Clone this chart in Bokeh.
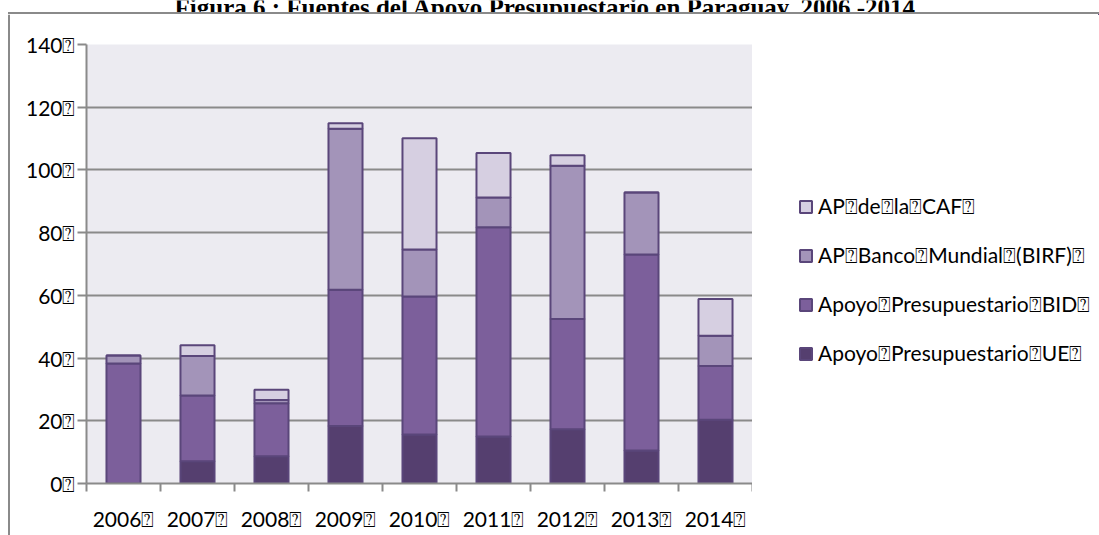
from bokeh.plotting import figure
from bokeh.models import (ColumnDataSource, Range1d, FixedTicker, Legend, LegendItem, Span)
from bokeh.layouts import column, row
from bokeh.core.properties import value
from bokeh.embed import file_html
from bokeh.resources import INLINE

years = ["2006", "2007", "2008", "2009", "2010", "2011", "2012", "2013", "2014"]
ue = [0.0, 7.1, 8.7, 18.3, 15.6, 15.0, 17.3, 10.5, 20.3]
bid = [38.3, 21.0, 16.9, 43.5, 44.0, 66.7, 35.2, 62.5, 17.2]
birf = [2.5, 12.6, 1.0, 51.3, 15.0, 9.5, 48.8, 19.8, 9.6]
caf = [0.0, 3.4, 3.3, 1.8, 35.5, 14.2, 3.4, 0.0, 11.7]
y_ticks = [0, 20, 40, 60, 80, 100, 120, 140]
series_names = ["Apoyo\u2370Presupuestario\u2370UE\u2370",
                "Apoyo\u2370Presupuestario\u2370BID\u2370",
                "AP\u2370Banco\u2370Mundial\u2370(BIRF)\u2370",
                "AP\u2370de\u2370la\u2370CAF\u2370"]
colors = ["#553f6f", "#7c5f9b", "#a394b9", "#d6cfe1"]
title_text = "Figura 6 : Fuentes del Apoyo Presupuestario en Paraguay, 2006 -2014"

FONT = "Lato"
GRAY = "#8a8a8a"
OUTLINE = "#5a467a"
stack_cols = ["ue", "bid", "birf", "caf"]


def blank(fig):
    fig.outline_line_color = None
    fig.grid.visible = False
    fig.background_fill_color = "white"
    fig.border_fill_color = "white"


# ---- top strip: (cut-off) title and top border line ----
top = figure(width=1099, height=14, output_backend="svg", toolbar_location=None,
             x_range=Range1d(0, 1099), y_range=Range1d(14, 0),
             x_axis_type=None, y_axis_type=None, min_border=0, frame_align=False)
blank(top)
top.text(x=[545], y=[6.5], text=[title_text], text_align="center",
         text_baseline="alphabetic", text_font=value("Liberation Serif"),
         text_font_style="bold", text_font_size="25px", text_color="black")
top.segment(x0=[7.5], y0=[12.5], x1=[1099], y1=[12.5], line_color=GRAY, line_width=2)
top.segment(x0=[8.5], y0=[11.5], x1=[8.5], y1=[14], line_color=GRAY, line_width=2)

# ---- left strip: left border line ----
left = figure(width=10, height=521, output_backend="svg", toolbar_location=None,
              x_range=Range1d(0, 10), y_range=Range1d(0, 1),
              x_axis_type=None, y_axis_type=None, min_border=0, frame_align=False)
blank(left)
left.add_layout(Span(location=8.5, dimension="height", line_color=GRAY, line_width=2))

# ---- chart ----
xs = [i + 0.5 for i in range(len(years))]
src = ColumnDataSource(dict(x=xs, ue=ue, bid=bid, birf=birf, caf=caf))

p = figure(width=742, height=521, output_backend="svg", toolbar_location=None,
           x_range=Range1d(0, len(years)), y_range=Range1d(0, 140),
           min_border_left=76, min_border_right=0, min_border_top=30,
           min_border_bottom=52, frame_align=False)
p.background_fill_color = "#ecebf1"
p.border_fill_color = "white"
p.outline_line_color = None

rs = p.vbar_stack(stack_cols, x="x", width=0.46, source=src,
                  fill_color=colors, line_color=OUTLINE, line_width=2)

p.yaxis.ticker = FixedTicker(ticks=y_ticks)
p.yaxis.major_label_overrides = {t: f"{t}\u2370" for t in y_ticks}
p.yaxis.axis_line_color = GRAY
p.yaxis.axis_line_width = 2
p.yaxis.major_tick_line_color = GRAY
p.yaxis.major_tick_line_width = 2
p.yaxis.major_tick_out = 9
p.yaxis.major_tick_in = 0
p.yaxis.minor_tick_line_color = None
p.yaxis.major_label_standoff = 2
p.yaxis.major_label_text_font = FONT
p.yaxis.major_label_text_font_size = "21px"
p.yaxis.major_label_text_color = "black"

p.xaxis.ticker = FixedTicker(ticks=xs, minor_ticks=list(range(len(years) + 1)))
p.xaxis.major_label_overrides = {x: f"{y}\u2370" for x, y in zip(xs, years)}
p.xaxis.axis_line_color = GRAY
p.xaxis.axis_line_width = 2
p.xaxis.major_tick_line_color = None
p.xaxis.major_tick_out = 0
p.xaxis.major_tick_in = 0
p.xaxis.minor_tick_line_color = GRAY
p.xaxis.minor_tick_line_width = 2
p.xaxis.minor_tick_out = 8
p.xaxis.minor_tick_in = 0
p.xaxis.major_label_standoff = 14
p.xaxis.major_label_text_font = FONT
p.xaxis.major_label_text_font_size = "21px"
p.xaxis.major_label_text_color = "black"

p.xgrid.grid_line_color = None
p.ygrid.ticker = FixedTicker(ticks=y_ticks)
p.ygrid.grid_line_color = GRAY
p.ygrid.grid_line_width = 2

# ---- legend panel (proxy renderers share the data but lie outside this panel's range) ----
lf = figure(width=347, height=521, output_backend="svg", toolbar_location=None,
            x_range=Range1d(-100, -99), y_range=Range1d(-100, -99),
            x_axis_type=None, y_axis_type=None, min_border=0, frame_align=False)
blank(lf)
proxies = lf.vbar_stack(stack_cols, x="x", width=0.46, source=src,
                        fill_color=colors, line_color=OUTLINE, line_width=2)
items = [LegendItem(label=series_names[i], renderers=[proxies[i]], index=1)
         for i in [3, 2, 1, 0]]
legend = Legend(items=items, location=(46, 169), orientation="vertical",
                glyph_width=15, glyph_height=15, label_standoff=5, spacing=23,
                padding=0, margin=0, border_line_color=None,
                background_fill_alpha=0, label_text_font=FONT,
                label_text_font_size="21px", label_text_color="black")
lf.add_layout(legend, "center")

layout = column(top, row(left, p, lf, spacing=0), spacing=0)

open("out.html", "w").write(file_html(layout, INLINE))
